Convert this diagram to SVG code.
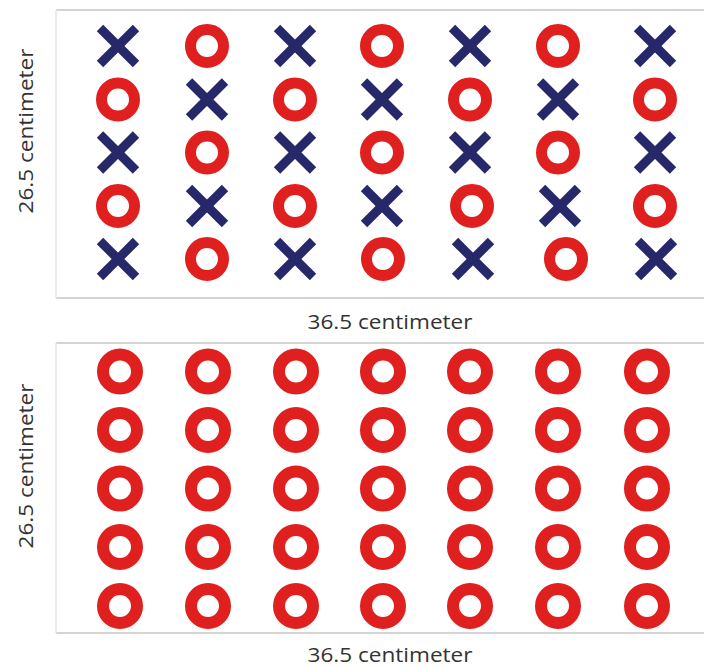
<svg xmlns="http://www.w3.org/2000/svg" width="704" height="667" viewBox="0 0 704 667">
<defs>
<style>
.frame{stroke:#d4d4d4;stroke-width:2;fill:none}
.side{stroke:#e6e6e6;stroke-width:1.5;fill:none}
.lbl{font-family:"Open Sans","Liberation Sans",sans-serif;font-size:20.5px;fill:#333333;text-anchor:middle}
.ring{fill:none;stroke:#e01f1f;stroke-width:11}
.ringB{fill:none;stroke:#e01f1f;stroke-width:12}
.cross{stroke:#27286a;stroke-width:9;stroke-linecap:butt}
</style>
<g id="O"><circle class="ring" r="16.5"/></g>
<g id="OB"><circle class="ringB" r="17"/></g>
<g id="X"><line class="cross" x1="-18" y1="-18" x2="18" y2="18"/><line class="cross" x1="18" y1="-18" x2="-18" y2="18"/></g>
</defs>
<rect width="704" height="667" fill="#ffffff"/>
<g id="top-board">
<line class="frame" x1="56" y1="10" x2="704" y2="10"/>
<line class="frame" x1="56" y1="298" x2="704" y2="298"/>
<line class="side" x1="56" y1="10" x2="56" y2="298"/>
</g>
<g id="bottom-board">
<line class="frame" x1="56" y1="343" x2="704" y2="343"/>
<line class="frame" x1="56" y1="633" x2="704" y2="633"/>
<line class="side" x1="56" y1="343" x2="56" y2="633"/>
</g>
<g id="top-labels">
<text class="lbl" x="390" y="329" textLength="165" lengthAdjust="spacingAndGlyphs">36.5 centimeter</text>
<text class="lbl" transform="translate(33,131) rotate(-90)" x="0" y="0" textLength="165" lengthAdjust="spacingAndGlyphs">26.5 centimeter</text>
</g>
<g id="bottom-labels">
<text class="lbl" x="390" y="662" textLength="165" lengthAdjust="spacingAndGlyphs">36.5 centimeter</text>
<text class="lbl" transform="translate(33,466) rotate(-90)" x="0" y="0" textLength="165" lengthAdjust="spacingAndGlyphs">26.5 centimeter</text>
</g>
<g id="top-grid">
<use href="#X" x="118" y="46"/><use href="#O" x="207" y="46"/><use href="#X" x="295" y="46"/><use href="#O" x="382" y="46"/><use href="#X" x="470" y="46"/><use href="#O" x="558" y="46"/><use href="#X" x="655" y="46"/>
<use href="#O" x="118" y="99.5"/><use href="#X" x="207" y="99.5"/><use href="#O" x="295" y="99.5"/><use href="#X" x="382" y="99.5"/><use href="#O" x="470" y="99.5"/><use href="#X" x="558" y="99.5"/><use href="#O" x="655" y="99.5"/>
<use href="#X" x="118" y="152.5"/><use href="#O" x="207" y="152.5"/><use href="#X" x="295" y="152.5"/><use href="#O" x="382" y="152.5"/><use href="#X" x="470" y="152.5"/><use href="#O" x="558" y="152.5"/><use href="#X" x="655" y="152.5"/>
<use href="#O" x="118" y="206"/><use href="#X" x="207" y="206"/><use href="#O" x="295" y="206"/><use href="#X" x="382" y="206"/><use href="#O" x="472" y="206"/><use href="#X" x="560" y="206"/><use href="#O" x="655" y="206"/>
<use href="#X" x="118" y="259"/><use href="#O" x="207" y="259"/><use href="#X" x="295" y="259"/><use href="#O" x="383" y="259"/><use href="#X" x="473" y="259"/><use href="#O" x="566" y="259"/><use href="#X" x="656" y="259"/>
</g>
<g id="bottom-grid">
<use href="#OB" x="120" y="371.5"/><use href="#OB" x="208" y="371.5"/><use href="#OB" x="296" y="371.5"/><use href="#OB" x="383" y="371.5"/><use href="#OB" x="470" y="371.5"/><use href="#OB" x="558" y="371.5"/><use href="#OB" x="647" y="371.5"/>
<use href="#OB" x="120" y="430"/><use href="#OB" x="208" y="430"/><use href="#OB" x="296" y="430"/><use href="#OB" x="383" y="430"/><use href="#OB" x="470" y="430"/><use href="#OB" x="558" y="430"/><use href="#OB" x="647" y="430"/>
<use href="#OB" x="120" y="488.5"/><use href="#OB" x="208" y="488.5"/><use href="#OB" x="296" y="488.5"/><use href="#OB" x="383" y="488.5"/><use href="#OB" x="470" y="488.5"/><use href="#OB" x="558" y="488.5"/><use href="#OB" x="647" y="488.5"/>
<use href="#OB" x="120" y="547"/><use href="#OB" x="208" y="547"/><use href="#OB" x="296" y="547"/><use href="#OB" x="383" y="547"/><use href="#OB" x="470" y="547"/><use href="#OB" x="558" y="547"/><use href="#OB" x="647" y="547"/>
<use href="#OB" x="120" y="606"/><use href="#OB" x="208" y="606"/><use href="#OB" x="296" y="606"/><use href="#OB" x="383" y="606"/><use href="#OB" x="470" y="606"/><use href="#OB" x="558" y="606"/><use href="#OB" x="647" y="606"/>
</g>
</svg>
